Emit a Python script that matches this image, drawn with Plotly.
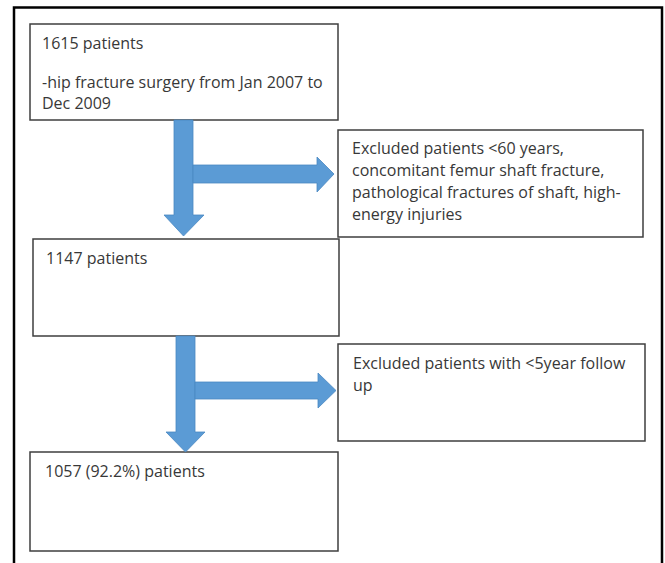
import plotly.graph_objects as go

# ---- content (flowchart texts) ----
box_texts = [
    ["1615 patients", "-hip fracture surgery from Jan 2007 to", "Dec 2009"],
    ["Excluded patients <60 years,", "concomitant femur shaft fracture,",
     "pathological fractures of shaft, high-", "energy injuries"],
    ["1147 patients"],
    ["Excluded patients with <5year follow", "up"],
    ["1057 (92.2%) patients"],
]

# ---- layout (pixel coordinates, y downwards) ----
box_rects = [
    (30, 24, 338, 120),
    (338, 130, 643, 237),
    (33, 239, 339, 336),
    (338, 344, 645, 441),
    (30, 452, 338, 551),
]
text_x = [40, 350, 44, 351, 43]
text_y = [
    [43, 82, 103],
    [148, 170, 192, 214],
    [258],
    [363, 385],
    [471],
]

# arrows: (shaft_left, shaft_right, y_start, head_top, head_left, head_right, tip)
down_arrows = [
    (174, 193, 120, 215, 164, 204, 236),
    (176, 195, 336, 432, 166, 205, 452),
]
# right arrows: (x_start, shaft_top, shaft_bottom, head_x, head_top, head_bottom, tip)
right_arrows = [
    (193, 165, 183, 317, 157, 192, 334),
    (195, 382, 399, 318, 373, 408, 336),
]

W, H = 665, 563
BLUE = "#5B9BD5"
BLUE_EDGE = "#4A88C2"
BORDER = "#3F3F3F"
TEXT = "#383838"
FONT = "Open Sans, Noto Sans, sans-serif"

fig = go.Figure()
shapes = []

# outer frame (open at bottom)
shapes.append(dict(type="path", path=f"M 14 {H+20} L 14 7.5 L 662 7.5 L 662 {H+20}",
                   line=dict(color="black", width=2.5), layer="above"))

for (x0, y0, x1, y1) in box_rects:
    shapes.append(dict(type="rect", x0=x0, y0=y0, x1=x1, y1=y1,
                       line=dict(color=BORDER, width=1.5), fillcolor="white"))

for (sl, sr, ys, ht, hl, hr, tip) in down_arrows:
    cx = (sl + sr) / 2
    p = (f"M {sl} {ys} L {sr} {ys} L {sr} {ht} L {hr} {ht} L {cx} {tip} "
         f"L {hl} {ht} L {sl} {ht} Z")
    shapes.append(dict(type="path", path=p, fillcolor=BLUE,
                       line=dict(color=BLUE_EDGE, width=0.8)))

for (xs, st, sb, hx, ht, hb, tip) in right_arrows:
    cy = (st + sb) / 2
    p = (f"M {xs} {st} L {hx} {st} L {hx} {ht} L {tip} {cy} L {hx} {hb} "
         f"L {hx} {sb} L {xs} {sb} Z")
    shapes.append(dict(type="path", path=p, fillcolor=BLUE,
                       line=dict(color=BLUE_EDGE, width=0.8)))

annotations = []
for lines, tx, ys in zip(box_texts, text_x, text_y):
    for line, ty in zip(lines, ys):
        annotations.append(dict(x=tx, y=ty, text=line, showarrow=False,
                                xanchor="left", yanchor="middle",
                                font=dict(family=FONT, size=16, color=TEXT)))

fig.update_layout(
    width=W, height=H,
    margin=dict(l=0, r=0, t=0, b=0),
    paper_bgcolor="white", plot_bgcolor="white",
    xaxis=dict(range=[0, W], visible=False, fixedrange=True),
    yaxis=dict(range=[H, 0], visible=False, fixedrange=True),
    shapes=shapes, annotations=annotations, showlegend=False,
    hovermode=False,
)

fig.write_html(
    "out.html",
    config={"displayModeBar": False, "staticPlot": True},
    post_script="document.body.style.margin='0';document.body.style.overflow='hidden';",
)
